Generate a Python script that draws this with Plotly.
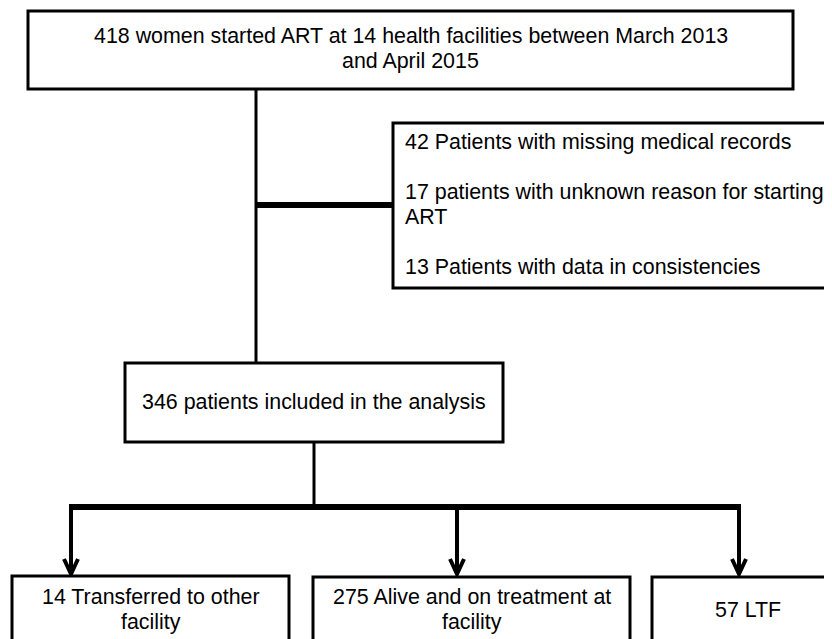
import plotly.graph_objects as go

# ---- content ----
top_text = ["418 women started ART at 14 health facilities between March 2013", "and April 2015"]
excl_lines = ["42 Patients with missing medical records", "",
              "17 patients with unknown reason for starting", "ART", "",
              "13 Patients with data in consistencies"]
mid_text = ["346 patients included in the analysis"]
outcome_texts = [["14 Transferred to other", "facility"],
                 ["275 Alive and on treatment at", "facility"],
                 ["57 LTF"]]

# ---- layout geometry (pixels) ----
W, H = 832, 639
OFF = 8  # page body margin
top_box = (28, 11, 793, 89)
excl_box = (393, 123, 827, 288)
mid_box = (125, 363, 503, 442)
out_boxes = [(12, 576, 289, 700), (313, 577, 630, 700), (652, 577, 845, 700)]
trunk_x = 256
branch_y = 205
split_y = 507
split_x = 314
arrow_xs = [71, 457, 739]
arrow_tip = 574

shapes = []
def rect(b, w=3):
    shapes.append(dict(type="rect", x0=b[0], y0=b[1], x1=b[2], y1=b[3],
                       line=dict(color="black", width=w), fillcolor="white", layer="above"))
def line(x0, y0, x1, y1, w=3):
    shapes.append(dict(type="line", x0=x0, y0=y0, x1=x1, y1=y1,
                       line=dict(color="black", width=w), layer="below"))

# connectors
line(trunk_x, top_box[3], trunk_x, mid_box[1], 3)
line(trunk_x, branch_y, excl_box[0], branch_y, 6)
line(split_x, mid_box[3], split_x, split_y, 3)
line(arrow_xs[0] - 2, split_y, arrow_xs[-1] + 2, split_y, 6)
for ax in arrow_xs:
    line(ax, split_y, ax, arrow_tip - 2, 4)
    shapes.append(dict(type="path",
                       path=f"M {ax-7},{arrow_tip-15} L {ax},{arrow_tip} L {ax+7},{arrow_tip-15}",
                       line=dict(color="black", width=4), layer="below"))

for b in [top_box, excl_box, mid_box] + out_boxes:
    rect(b, 3)

FONT = "Liberation Sans, Arial, Helvetica, sans-serif"
annotations = []
def txt(x, y, s, anchor="center", size=21.4):
    annotations.append(dict(x=x, y=y, xref="x", yref="y", text=s, showarrow=False,
                            xanchor=anchor, yanchor="middle", align=anchor,
                            font=dict(family=FONT, size=size, color="black")))

cx = (top_box[0] + top_box[2]) / 2
for i, s in enumerate(top_text):
    txt(cx, 36 + 25 * i, s)
for i, s in enumerate(excl_lines):
    if s:
        txt(403, 142 + 25 * i, s, anchor="left")
txt((mid_box[0] + mid_box[2]) / 2, 402, mid_text[0])
for b, lines in zip(out_boxes, outcome_texts):
    bx = (b[0] + b[2]) / 2
    if len(lines) == 1:
        txt(748, 610, lines[0])
    else:
        for i, s in enumerate(lines):
            txt(bx, 597 + 25 * i, s)

fig = go.Figure()
fig.add_trace(go.Scatter(x=[0, W], y=[0, H], mode="markers", marker=dict(opacity=0),
                         hoverinfo="skip", showlegend=False))
fig.update_layout(width=W, height=H, margin=dict(l=0, r=0, t=0, b=0),
                  paper_bgcolor="white", plot_bgcolor="white",
                  shapes=shapes, annotations=annotations, showlegend=False,
                  xaxis=dict(range=[OFF, W + OFF], visible=False, fixedrange=True),
                  yaxis=dict(range=[H + OFF, OFF], visible=False, fixedrange=True))
fig.write_html("out.html")
